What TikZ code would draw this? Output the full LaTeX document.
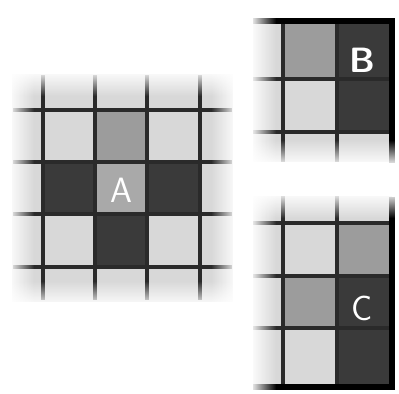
\documentclass[tikz,border=0pt]{standalone}
\usepackage{tikz}
\usetikzlibrary{fadings}

\definecolor{cellLight}{HTML}{D8D8D8}
\definecolor{cellMid}{HTML}{9C9C9C}
\definecolor{cellCtr}{HTML}{A9A9A9}
\definecolor{cellDark}{HTML}{3A3A3A}
\definecolor{lineGray}{HTML}{2A2A2A}

% white overlays, opaque on the named side
\tikzfading[name=fade left, left color=transparent!0, right color=transparent!100]
\tikzfading[name=fade right, left color=transparent!100, right color=transparent!0]
\tikzfading[name=fade top, top color=transparent!0, bottom color=transparent!100]
\tikzfading[name=fade bottom, top color=transparent!100, bottom color=transparent!0]

\begin{document}
\begin{tikzpicture}[x=0.02cm, y=-0.02cm,
    gridline/.style={lineGray, line width=2.3pt},
    frame/.style={black, line width=3.4pt},
    letter/.style={text=white, font=\fontsize{20}{20}\selectfont\sffamily}]
    \useasboundingbox (0,0) rectangle (399,394);

    % Left grid
    \fill[cellLight] (12,74) rectangle (233,302);
    \fill[cellMid] (95,110) rectangle (147,162);
    \fill[cellCtr] (95,162) rectangle (147,214);
    \fill[cellDark] (43,162) rectangle (95,214);
    \fill[cellDark] (147,162) rectangle (200,214);
    \fill[cellDark] (95,214) rectangle (147,267);
    \foreach \x in {43,95,147,200}
        \draw[gridline] (\x,75) -- (\x,300);
    \foreach \y in {110,162,214,267}
        \draw[gridline] (13,\y) -- (232,\y);
    \node[letter] (lblA) at (121,190) {A};
    % soft edges
    \fill[white, path fading=fade left] (8,70) rectangle (34,307);
    \fill[white, path fading=fade right] (211,70) rectangle (237,307);
    \fill[white, path fading=fade top] (8,70) rectangle (237,96);
    \fill[white, path fading=fade bottom] (8,281) rectangle (237,307);

    % Panel B
    \fill[cellLight] (253,21) rectangle (392,162);
    \fill[cellMid] (283,21) rectangle (337,79);
    \fill[cellDark] (337,21) rectangle (392,79);
    \fill[cellDark] (337,79) rectangle (392,132);
    \foreach \x in {283,337}
        \draw[gridline] (\x,21) -- (\x,162);
    \foreach \y in {79,132}
        \draw[gridline] (253,\y) -- (392,\y);
    \draw[frame] (253,21) -- (392,21) -- (392,163);
    \node[letter, font=\fontsize{20}{20}\selectfont\sffamily\bfseries] (lblB) at (362,60) {B};
    \fill[white, path fading=fade left] (250,0) rectangle (276,166);
    \fill[white, path fading=fade bottom] (250,140) rectangle (399,166);

    % Panel C
    \fill[cellLight] (253,196) rectangle (392,387);
    \fill[cellMid] (337,223) rectangle (392,276);
    \fill[cellMid] (283,276) rectangle (337,328);
    \fill[cellDark] (337,276) rectangle (392,328);
    \fill[cellDark] (337,328) rectangle (392,387);
    \foreach \x in {283,337}
        \draw[gridline] (\x,196) -- (\x,387);
    \foreach \y in {223,276,328}
        \draw[gridline] (253,\y) -- (392,\y);
    \draw[frame] (392,197) -- (392,387) -- (253,387);
    \node[letter] (lblC) at (362,308) {C};
    \fill[white, path fading=fade left] (250,192) rectangle (276,394);
    \fill[white, path fading=fade top] (250,192) rectangle (399,218);
\end{tikzpicture}
\end{document}
